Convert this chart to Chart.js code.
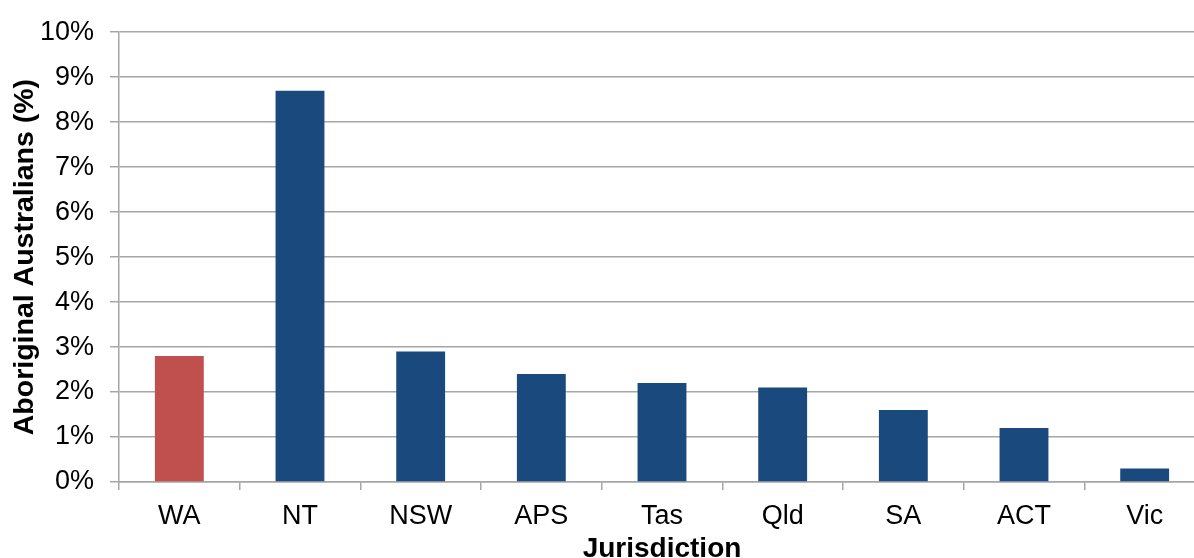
<!DOCTYPE html>
<html>
<head>
<meta charset="utf-8">
<script src="https://cdn.jsdelivr.net/npm/chart.js@4.4.1/dist/chart.umd.min.js"></script>
<style>
  html, body { margin: 0; padding: 0; background: #fff; overflow: hidden; }
  #wrap { position: relative; width: 1206px; height: 570px; }
</style>
</head>
<body>
<div id="wrap"><canvas id="chart"></canvas></div>
<script>
// Share of Aboriginal Australians by jurisdiction
const jurisdictions = ['WA', 'NT', 'NSW', 'APS', 'Tas', 'Qld', 'SA', 'ACT', 'Vic'];
const aboriginalShare = [2.8, 8.7, 2.9, 2.4, 2.2, 2.1, 1.6, 1.2, 0.3];
const barColours = ['#c0504d', '#1a4a7d', '#1a4a7d', '#1a4a7d', '#1a4a7d', '#1a4a7d', '#1a4a7d', '#1a4a7d', '#1a4a7d'];
const yTickValues = [0, 1, 2, 3, 4, 5, 6, 7, 8, 9, 10];

const FONT = '"Liberation Sans", Arial, sans-serif';
const GRID = '#a6a6a6';

new Chart(document.getElementById('chart'), {
  type: 'bar',
  data: {
    labels: jurisdictions,
    datasets: [{
      data: aboriginalShare,
      backgroundColor: barColours,
      borderWidth: 0,
      barPercentage: 0.405,
      categoryPercentage: 1
    }]
  },
  options: {
    responsive: true,
    maintainAspectRatio: false,
    animation: false,
    layout: { padding: { top: 30, right: 1, left: 0, bottom: 0 } },
    plugins: { legend: { display: false }, tooltip: { enabled: false } },
    scales: {
      x: {
        grid: { offset: true, drawOnChartArea: false, drawTicks: true, tickLength: 8, color: GRID, lineWidth: 1.5 },
        border: { color: GRID, width: 1.5 },
        ticks: { color: '#000', font: { family: FONT, size: 27 }, padding: 10, maxRotation: 0 },
        title: { display: true, text: 'Jurisdiction', color: '#000',
                 font: { family: FONT, size: 28, weight: 'bold' }, padding: { top: 0, bottom: 4 } },
        afterFit: s => { s.height = 88; }
      },
      y: {
        min: 0, max: 10,
        afterBuildTicks: s => { s.ticks = yTickValues.map(v => ({ value: v })); },
        grid: { color: GRID, lineWidth: 1.5, tickLength: 9 },
        border: { color: GRID, width: 1.5 },
        ticks: { color: '#000', font: { family: FONT, size: 27 }, padding: 16,
                 callback: v => v + '%' },
        title: { display: true, text: 'Aboriginal Australians (%)', color: '#000',
                 font: { family: FONT, size: 28.5, weight: 'bold' }, padding: { top: 8, bottom: 0 } },
        afterFit: s => { s.width = 119; }
      }
    }
  }
});
</script>
</body>
</html>
